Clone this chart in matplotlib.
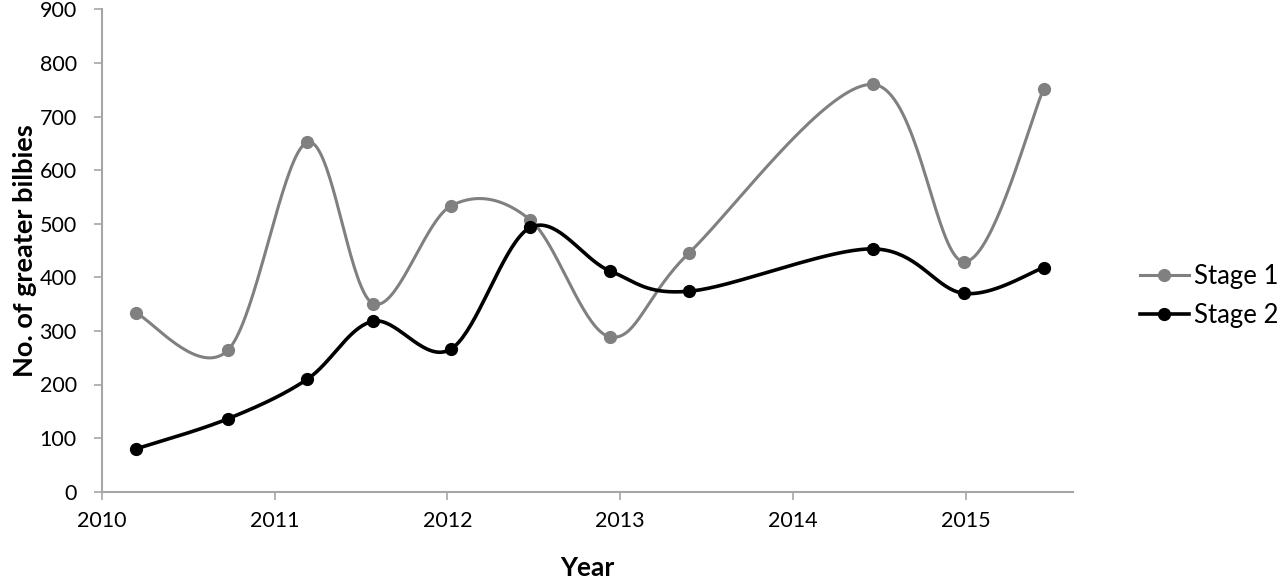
import numpy as np
import matplotlib
matplotlib.use("Agg")
import matplotlib.pyplot as plt

# survey dates as decimal years
survey_dates = [2010.20, 2010.73, 2011.19, 2011.57, 2012.02, 2012.48,
                2012.94, 2013.40, 2014.46, 2014.99, 2015.45]
stage1 = [333, 264, 652, 351, 533, 507, 289, 446, 760, 429, 751]
stage2 = [80, 136, 210, 318, 266, 493, 412, 374, 453, 370, 418]
year_ticks = [2010, 2011, 2012, 2013, 2014, 2015]
count_ticks = [0, 100, 200, 300, 400, 500, 600, 700, 800, 900]

plt.rcParams['font.family'] = ['Lato', 'DejaVu Sans']


def smooth(x, y, n=40):
    """Excel-style smoothed line: cubic Bezier through each point (Catmull-Rom, 1/6)."""
    x = np.asarray(x, float)
    y = np.asarray(y, float)
    pts = np.column_stack([x, y])
    out = []
    t = np.linspace(0, 1, n)[:, None]
    for i in range(len(pts) - 1):
        p0 = pts[max(i - 1, 0)]
        p1 = pts[i]
        p2 = pts[i + 1]
        p3 = pts[min(i + 2, len(pts) - 1)]
        c1 = p1 + (p2 - p0) / 6.0
        c2 = p2 - (p3 - p1) / 6.0
        seg = ((1 - t) ** 3) * p1 + 3 * ((1 - t) ** 2) * t * c1 + 3 * (1 - t) * t ** 2 * c2 + t ** 3 * p2
        out.append(seg if i == 0 else seg[1:])
    seg = np.vstack(out)
    return seg[:, 0], seg[:, 1]


W, H = 1280, 578
fig = plt.figure(figsize=(W / 100, H / 100), dpi=100)
ax = fig.add_axes([101.7 / W, (H - 491.7) / H, (1073 - 101.7) / W, (491.7 - 9.3) / H])

gray = '#808080'
for vals, col, lw, lab in [(stage1, gray, 2.2, 'Stage 1'), (stage2, 'black', 2.6, 'Stage 2')]:
    sx, sy = smooth(survey_dates, vals)
    ax.plot(sx, sy, color=col, lw=lw, zorder=2)
    ax.plot(survey_dates, vals, 'o', color=col, ms=8.5, zorder=3)
    ax.plot([], [], '-o', color=col, lw=lw, ms=8.5, label=lab)

ax.set_xlim(2010, 2015.62)
ax.set_ylim(0, 900)
ax.set_xticks(year_ticks)
ax.set_xticklabels([str(v) for v in year_ticks])
ax.set_yticks(count_ticks)

for s in ['top', 'right']:
    ax.spines[s].set_visible(False)
for s in ['left', 'bottom']:
    ax.spines[s].set_color('#a6a6a6')
    ax.spines[s].set_linewidth(1.5)
ax.tick_params(axis='both', colors='#a6a6a6', width=1.2, length=6, labelcolor='black', labelsize=15.5)
ax.tick_params(axis='y', pad=12)
ax.tick_params(axis='x', pad=8)

ax.set_xlabel('Year', fontsize=19, fontweight='bold', labelpad=18)
ax.set_ylabel('No. of greater bilbies', fontsize=19.5, fontweight='bold', labelpad=2)

ax.legend(loc='center left', bbox_to_anchor=(1140 / W, (H - 296) / H), bbox_transform=fig.transFigure,
          frameon=False, fontsize=18.5, handlelength=1.9, handletextpad=0.2, labelspacing=0.55,
          borderaxespad=0, borderpad=0)

fig.savefig('out.png', dpi=100)
